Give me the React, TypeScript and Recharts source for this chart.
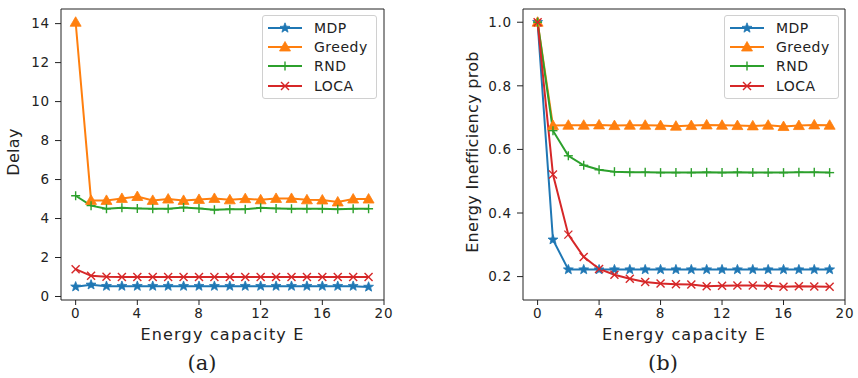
import { LineChart, Line, XAxis, YAxis } from "recharts";

const capacity = [0, 1, 2, 3, 4, 5, 6, 7, 8, 9, 10, 11, 12, 13, 14, 15, 16, 17, 18, 19];

// (a) delay
const delayMdp = [0.5, 0.6, 0.53, 0.53, 0.53, 0.53, 0.53, 0.53, 0.53, 0.53, 0.53, 0.53, 0.53, 0.53, 0.53, 0.53, 0.53, 0.53, 0.53, 0.49];
const delayGreedy = [14.07, 4.93, 4.93, 5.03, 5.13, 4.93, 5.0, 4.93, 4.98, 5.03, 4.96, 5.02, 4.96, 5.03, 5.03, 4.96, 4.95, 4.85, 5.0, 5.0];
const delayRnd = [5.17, 4.66, 4.5, 4.55, 4.52, 4.5, 4.5, 4.57, 4.52, 4.45, 4.48, 4.48, 4.55, 4.52, 4.5, 4.5, 4.5, 4.48, 4.5, 4.5];
const delayLoca = [1.4, 1.06, 1.01, 1.0, 1.0, 1.0, 1.0, 1.0, 1.0, 1.0, 1.0, 1.0, 1.0, 1.0, 1.0, 1.0, 1.0, 1.0, 1.0, 1.0];

// (b) energy inefficiency probability
const ineffMdp = [1.0, 0.316, 0.222, 0.222, 0.222, 0.222, 0.222, 0.222, 0.222, 0.222, 0.222, 0.222, 0.222, 0.222, 0.222, 0.222, 0.222, 0.222, 0.222, 0.222];
const ineffGreedy = [1.0, 0.675, 0.676, 0.676, 0.677, 0.675, 0.676, 0.676, 0.675, 0.673, 0.675, 0.677, 0.676, 0.675, 0.674, 0.676, 0.672, 0.675, 0.677, 0.676];
const ineffRnd = [1.0, 0.659, 0.58, 0.55, 0.536, 0.53, 0.528, 0.528, 0.527, 0.527, 0.527, 0.528, 0.527, 0.528, 0.527, 0.527, 0.527, 0.528, 0.528, 0.527];
const ineffLoca = [1.0, 0.521, 0.332, 0.262, 0.224, 0.206, 0.193, 0.183, 0.178, 0.176, 0.175, 0.17, 0.171, 0.172, 0.172, 0.171, 0.168, 0.17, 0.169, 0.168];

const xTicks = [0, 4, 8, 12, 16, 20];
const delayTicks = [0, 2, 4, 6, 8, 10, 12, 14];
const ineffTicks = [0.2, 0.4, 0.6, 0.8, 1.0];

const seriesNames = ["MDP", "Greedy", "RND", "LOCA"];
const colors = ["#1f77b4", "#ff7f0e", "#2ca02c", "#d62728"];
const FONT = "'DejaVu Sans', sans-serif";

const buildRows = (mdp: number[], greedy: number[], rnd: number[], loca: number[]) =>
    capacity.map((c, i) => ({ c, MDP: mdp[i], Greedy: greedy[i], RND: rnd[i], LOCA: loca[i] }));

const delayRows = buildRows(delayMdp, delayGreedy, delayRnd, delayLoca);
const ineffRows = buildRows(ineffMdp, ineffGreedy, ineffRnd, ineffLoca);

// marker shapes, matplotlib style
const Marker = ({ kind, cx, cy, color }: { kind: string; cx: number; cy: number; color: string }) => {
    if (kind === "MDP") {
        const pts: string[] = [];
        for (let k = 0; k < 10; k++) {
            const r = k % 2 === 0 ? 5.2 : 2.2;
            const a = -Math.PI / 2 + (k * Math.PI) / 5;
            pts.push(`${cx + r * Math.cos(a)},${cy + r * Math.sin(a)}`);
        }
        return <polygon points={pts.join(" ")} fill={color} stroke={color} strokeWidth={0.8} />;
    }
    if (kind === "Greedy") {
        return (
            <polygon
                points={`${cx},${cy - 5.5} ${cx - 5.5},${cy + 4} ${cx + 5.5},${cy + 4}`}
                fill={color}
                stroke={color}
                strokeWidth={0.8}
            />
        );
    }
    if (kind === "RND") {
        return (
            <g stroke={color} strokeWidth={1.4}>
                <line x1={cx - 4.5} y1={cy} x2={cx + 4.5} y2={cy} />
                <line x1={cx} y1={cy - 4.5} x2={cx} y2={cy + 4.5} />
            </g>
        );
    }
    return (
        <g stroke={color} strokeWidth={1.4}>
            <line x1={cx - 4} y1={cy - 4} x2={cx + 4} y2={cy + 4} />
            <line x1={cx - 4} y1={cy + 4} x2={cx + 4} y2={cy - 4} />
        </g>
    );
};

const makeDot = (kind: string, color: string) => (p: any) => (
    <Marker key={p.key ?? `${kind}-${p.index}`} kind={kind} cx={p.cx} cy={p.cy} color={color} />
);

const LegendBox = ({ left }: { left: number }) => (
    <div
        style={{
            position: "absolute",
            left,
            top: 15,
            background: "rgba(255,255,255,0.85)",
            border: "1px solid #d0d0d0",
            borderRadius: 3,
            padding: "2px 8px 2px 4px",
            fontFamily: FONT,
            fontSize: 14,
            letterSpacing: 0.5,
            color: "#222",
        }}
    >
        {seriesNames.map((n, i) => (
            <div key={n} style={{ display: "flex", alignItems: "center", height: 19.4 }}>
                <svg width={36} height={14} style={{ marginRight: 11 }}>
                    <line x1={1} y1={7} x2={35} y2={7} stroke={colors[i]} strokeWidth={2} />
                    <Marker kind={n} cx={18} cy={7} color={colors[i]} />
                </svg>
                <span>{n}</span>
            </div>
        ))}
    </div>
);

type PanelProps = {
    rows: any[];
    yDomain: [number, number];
    yTicks: number[];
    yLabel: string;
    yLabelX: number;
    fmt: (v: number) => string;
    marginLeft: number;
    marginRight: number;
};

const Y_AXIS_W = 40;
const X_AXIS_H = 30;

const Panel = ({ rows, yDomain, yTicks, yLabel, yLabelX, fmt, marginLeft, marginRight }: PanelProps) => {
    const tickStyle = { fontSize: 13.5, fill: "#222", fontFamily: FONT, letterSpacing: 0.8 };
    const plotLeft = marginLeft;
    const plotRight = 430 - marginRight;
    return (
        <LineChart
            width={430}
            height={378}
            data={rows}
            margin={{ top: 8, left: marginLeft - Y_AXIS_W, right: marginRight - 1, bottom: 78 - X_AXIS_H }}
        >
            <XAxis
                dataKey="c"
                type="number"
                domain={[-0.95, 20]}
                ticks={xTicks}
                height={X_AXIS_H}
                stroke="#222"
                tickSize={5}
                tickMargin={3}
                tick={tickStyle}
                label={{
                    content: () => (
                        <text
                            x={(plotLeft + plotRight) / 2}
                            y={334}
                            textAnchor="middle"
                            dominantBaseline="central"
                            style={{ fontSize: 16, fill: "#222", fontFamily: FONT, letterSpacing: 1.2 }}
                        >
                            Energy capacity E
                        </text>
                    ),
                }}
            />
            <XAxis
                xAxisId="top"
                dataKey="c"
                orientation="top"
                type="number"
                domain={[-0.95, 20]}
                height={1}
                tick={false}
                tickLine={false}
                stroke="#222"
            />
            <YAxis
                type="number"
                domain={yDomain}
                ticks={yTicks}
                width={Y_AXIS_W}
                stroke="#222"
                tickSize={6}
                tickMargin={5}
                tick={tickStyle}
                tickFormatter={fmt}
                allowDataOverflow
                label={{
                    content: () => (
                        <text
                            x={yLabelX}
                            y={152}
                            transform={`rotate(-90 ${yLabelX} 152)`}
                            textAnchor="middle"
                            dominantBaseline="central"
                            style={{ fontSize: 16, fill: "#222", fontFamily: FONT, letterSpacing: 0.3 }}
                        >
                            {yLabel}
                        </text>
                    ),
                }}
            />
            <YAxis
                yAxisId="right"
                orientation="right"
                type="number"
                width={1}
                domain={yDomain}
                tick={false}
                tickLine={false}
                stroke="#222"
            />
            {seriesNames.map((n, i) => (
                <Line
                    key={n}
                    dataKey={n}
                    stroke={colors[i]}
                    strokeWidth={2}
                    dot={makeDot(n, colors[i])}
                    activeDot={false}
                    isAnimationActive={false}
                    type="linear"
                />
            ))}
        </LineChart>
    );
};

const captionStyle: React.CSSProperties = {
    position: "absolute",
    top: 351,
    fontFamily: "'DejaVu Serif', serif",
    fontSize: 21,
    color: "#222",
    transform: "translateX(-50%)",
};

const App = () => {
    return (
        <div style={{ position: "absolute", left: 0, top: 0, width: 858, height: 378, background: "#fff" }}>
            <div style={{ position: "absolute", left: 0, top: 0 }}>
                <Panel
                    rows={delayRows}
                    yDomain={[-0.18, 14.75]}
                    yTicks={delayTicks}
                    yLabel="Delay"
                    yLabelX={13}
                    fmt={(v) => String(v)}
                    marginLeft={61}
                    marginRight={46}
                />
                <LegendBox left={262} />
            </div>
            <div style={{ position: "absolute", left: 430, top: 0 }}>
                <Panel
                    rows={ineffRows}
                    yDomain={[0.1264, 1.0416]}
                    yTicks={ineffTicks}
                    yLabel="Energy Inefficiency prob"
                    yLabelX={42}
                    fmt={(v) => v.toFixed(1)}
                    marginLeft={93}
                    marginRight={15}
                />
                <LegendBox left={294} />
            </div>
            <div style={{ ...captionStyle, left: 202 }}>(a)</div>
            <div style={{ ...captionStyle, left: 663 }}>(b)</div>
        </div>
    );
};

export default App;
